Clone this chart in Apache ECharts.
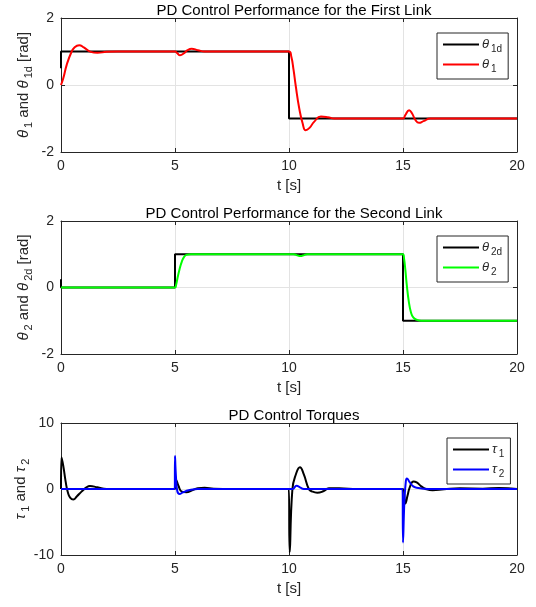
<!DOCTYPE html>
<html><head><meta charset="utf-8">
<script src="https://cdn.jsdelivr.net/npm/echarts@6/dist/echarts.min.js"></script>
<style>html,body{margin:0;padding:0;background:#fff}#c{width:536px;height:607px}</style>
</head><body><div id="c"></div>
<script>
// ---- data ----
const titles = ['PD Control Performance for the First Link','PD Control Performance for the Second Link','PD Control Torques'];
const xTicks = [0,5,10,15,20];

const th1dT = [0,0,10,10,20];
const th1dV = [0.5,1,1,-1,-1];
const th1T = [0,0.1,0.25,0.45,0.6,0.8,1.0,1.3,1.6,2.0,2.5,3,4,5.0,5.1,5.22,5.4,5.55,5.73,6.0,6.3,7,8,9,10.0,10.1,10.2,10.29,10.45,10.6,10.73,10.9,11.1,11.4,11.7,12.0,13,14,15.0,15.1,15.27,15.4,15.55,15.7,15.9,16.2,16.6,17,18,19,20];
const th1V = [0,0.2,0.6,0.97,1.13,1.19,1.12,0.99,0.96,0.99,1.0,1.0,1.0,1.0,0.95,0.89,0.95,1.04,1.08,1.04,1.0,1.0,1.0,1.0,1.0,0.85,0.45,0.0,-0.7,-1.15,-1.35,-1.28,-1.1,-0.94,-0.96,-1.0,-1.0,-1.0,-1.0,-0.9,-0.75,-0.85,-1.05,-1.13,-1.08,-1.0,-1.0,-1.0,-1.0,-1.0,-1.0];

const th2dT = [0,0,5,5,15,15,20];
const th2dV = [0.25,0,0,1,1,-1,-1];
const th2T = [0,5.0,5.05,5.1,5.2,5.3,5.4,5.5,5.7,6,10.2,10.4,10.5,10.6,10.8,15.0,15.05,15.1,15.17,15.25,15.35,15.45,15.6,15.8,20];
const th2V = [0,0,0.08,0.25,0.55,0.78,0.92,0.98,1.0,1.0,1.0,0.96,0.95,0.96,1.0,1.0,0.85,0.55,0.05,-0.4,-0.75,-0.9,-0.97,-1.0,-1.0];

const tau1T = [0,0.02,0.1,0.2,0.3,0.4,0.54,0.7,0.9,1.1,1.27,1.6,2.0,3,4,4.99,5.05,5.15,5.3,5.5,5.75,6.0,6.3,6.7,7.5,9.99,10.03,10.15,10.3,10.48,10.65,10.87,11.0,11.24,11.5,11.75,12.2,13,14.99,15.1,15.2,15.3,15.46,15.6,15.8,16.0,16.3,16.8,17.5,18.5,19.2,20];
const tau1V = [0,4.8,3.5,1.2,-0.5,-1.3,-1.6,-1.1,-0.4,0.2,0.45,0.25,0,0,0,0,1.35,0.5,-0.4,-0.5,-0.2,0.1,0.2,0.05,0,0,-9.6,0,2.2,3.3,2.2,0,-0.35,-0.56,-0.35,0.1,0.1,0,0,-2.2,-1.0,0.3,1.15,1.0,0.4,0,-0.2,-0.05,0.1,0.05,0.15,0];

const tau2T = [0,4.99,5.0,5.04,5.1,5.2,5.35,5.6,6.0,10.15,10.33,10.5,10.65,14.98,15.0,15.06,15.12,15.17,15.3,15.45,15.6,15.9,16.3,17,18,19,20];
const tau2V = [0,0,5.0,2.0,-0.3,-0.75,-0.5,-0.2,0,0,0.5,0.2,0,0,-8.1,-2,1.0,1.6,1.0,0.4,0.2,0.05,0,0,0,0,0];

const yRanges = [[-2,2,2],[-2,2,2],[-10,10,10]];

// ---- chart ----
const zip = (t,v) => t.map((x,i)=>[x,v[i]]);
const chart = echarts.init(document.getElementById('c'), null, {renderer:'canvas'});
const FONT = 'Liberation Sans, Arial, Helvetica, sans-serif';
const TXT = '#262626';
const grids = [
  {left:61, top:18, width:456, height:134, outerBoundsMode:'none', containLabel:false},
  {left:61, top:221, width:456, height:133, outerBoundsMode:'none', containLabel:false},
  {left:61, top:423, width:456, height:132, outerBoundsMode:'none', containLabel:false}
];
const titleCenters = [18, 221, 423];
const rich = {
  g:{fontFamily:FONT,fontSize:15,fontStyle:'italic',color:TXT},
  n:{fontFamily:FONT,fontSize:15,color:TXT},
  s:{fontFamily:FONT,fontSize:11,color:TXT,verticalAlign:'bottom',padding:[10,0,0,2]}
};
const lrich = {
  g:{fontFamily:FONT,fontSize:13,fontStyle:'italic',color:TXT},
  s:{fontFamily:FONT,fontSize:10,color:TXT,verticalAlign:'bottom',padding:[9,0,0,2]}
};
const yNames = [
  '{g|θ}{s|1}{n| and }{g|θ}{s|1d}{n| [rad]}',
  '{g|θ}{s|2}{n| and }{g|θ}{s|2d}{n| [rad]}',
  '{g|τ}{s|1}{n| and }{g|τ}{s|2}'
];
const legendNames = [['θ1d','θ1'],['θ2d','θ2'],['τ1','τ2']];
const legendFmt = {'θ1d':'{g|θ}{s|1d}','θ1':'{g|θ}{s|1}','θ2d':'{g|θ}{s|2d}','θ2':'{g|θ}{s|2}','τ1':'{g|τ}{s|1}','τ2':'{g|τ}{s|2}'};
const legendPos = [{left:437,top:33,w:70},{left:437,top:236,w:70},{left:447,top:438,w:60}];
const yNameGaps = [27,27,30];

const xAxes = [], yAxes = [];
for (let i=0;i<3;i++){
  const common = {type:'value',gridIndex:i,min:0,max:20,interval:5,
    axisLine:{show:true,onZero:false,lineStyle:{color:TXT,width:1}},
    axisTick:{show:true,inside:true,length:4,lineStyle:{color:TXT}},
    splitLine:{show:false}};
  xAxes.push(Object.assign({},common,{position:'bottom',
    axisLabel:{show:true,color:TXT,fontFamily:FONT,fontSize:14,margin:7},
    splitLine:{show:true,lineStyle:{color:'#e3e3e3',width:1}},
    name:'t [s]',nameLocation:'middle',nameGap:26,
    nameTextStyle:{color:TXT,fontFamily:FONT,fontSize:15}}));
}
for (let i=0;i<3;i++){
  xAxes.push({type:'value',gridIndex:i,min:0,max:20,interval:5,position:'top',
    axisLine:{show:true,onZero:false,lineStyle:{color:TXT,width:1}},
    axisTick:{show:true,inside:true,length:4,lineStyle:{color:TXT}},
    axisLabel:{show:false},splitLine:{show:false}});
}
for (let i=0;i<3;i++){
  const [mn,mx,iv] = yRanges[i];
  yAxes.push({type:'value',gridIndex:i,min:mn,max:mx,interval:iv,position:'left',
    axisLine:{show:true,onZero:false,lineStyle:{color:TXT,width:1}},
    axisTick:{show:true,inside:true,length:4,lineStyle:{color:TXT}},
    axisLabel:{show:true,color:TXT,fontFamily:FONT,fontSize:14,margin:7},
    splitLine:{show:true,lineStyle:{color:'#e3e3e3',width:1}},
    name:yNames[i],nameLocation:'middle',nameRotate:90,nameGap:yNameGaps[i],nameMoveOverlap:false,
    nameTextStyle:{rich:rich}});
}
for (let i=0;i<3;i++){
  const [mn,mx,iv] = yRanges[i];
  yAxes.push({type:'value',gridIndex:i,min:mn,max:mx,interval:iv,position:'right',
    axisLine:{show:true,onZero:false,lineStyle:{color:TXT,width:1}},
    axisTick:{show:true,inside:true,length:4,lineStyle:{color:TXT}},
    axisLabel:{show:false},splitLine:{show:false}});
}

function line(name,t,v,color,gi,smooth){
  return {name:name,type:'line',xAxisIndex:gi,yAxisIndex:gi,data:zip(t,v),
    showSymbol:false,symbol:'none',smooth:smooth?0.5:false,
    lineStyle:{color:color,width:2},itemStyle:{color:color},animation:false,z:smooth?3:2};
}
const series = [
  line('θ1d',th1dT,th1dV,'#000000',0,false),
  line('θ1',th1T,th1V,'#ff0000',0,true),
  line('θ2d',th2dT,th2dV,'#000000',1,false),
  line('θ2',th2T,th2V,'#00ff00',1,true),
  line('τ1',tau1T,tau1V,'#000000',2,true),
  line('τ2',tau2T,tau2V,'#0000ff',2,true)
];
const legends = legendNames.map((names,i)=>({
  data:names, orient:'vertical', left:legendPos[i].left, top:legendPos[i].top,
  width:legendPos[i].w, itemWidth:36, itemHeight:12, itemGap:4,
  padding:[5,6,5,6], borderColor:TXT, borderWidth:1, backgroundColor:'#fff',
  selectedMode:false, icon:'path://M0,5 L36,5 L36,7 L0,7 Z',
  formatter:(n)=>legendFmt[n], textStyle:{rich:lrich,padding:[0,0,0,-2]}
}));
const titleArr = titles.map((t,i)=>({text:t,left:289,textAlign:'center',top:titleCenters[i]-20,
  textStyle:{fontFamily:FONT,fontSize:15,fontWeight:'normal',color:'#000'}}));

chart.setOption({animation:false,backgroundColor:'#fff',title:titleArr,grid:grids,
  xAxis:xAxes,yAxis:yAxes,legend:legends,series:series});
</script></body></html>
